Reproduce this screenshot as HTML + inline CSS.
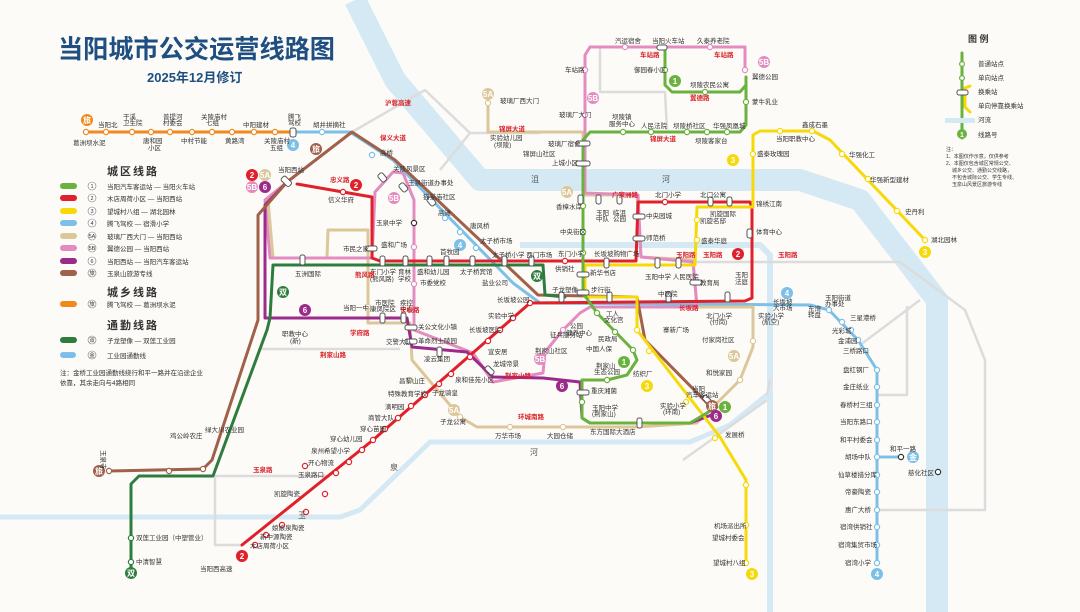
<!DOCTYPE html>
<html><head><meta charset="utf-8"><style>
html,body{margin:0;padding:0;background:#fcfbf8;}
svg{display:block;font-family:"Liberation Sans","Noto Sans CJK SC",sans-serif;}
.s{font-size:6.5px;fill:#333;}
.r{font-size:6.5px;fill:#d8232a;font-weight:bold;}
.l{font-size:8px;fill:#222;}
.h{font-size:11px;fill:#333;font-weight:bold;letter-spacing:2px;}
</style></head><body>
<svg width="1080" height="612" viewBox="0 0 1080 612">
<rect width="1080" height="612" fill="#fcfbf8"/>
<!-- rivers -->
<g fill="none" stroke="#d4e9f3" stroke-linejoin="round" stroke-linecap="butt">
<polyline points="355,0 395,80 480,180 800,180 860,200 937,300 937,612" stroke-width="22"/>
<polyline points="520,245 760,245 770,255 770,612" stroke-width="6"/>
<polyline points="0,517 340,517 360,510 430,442 690,442 730,425 767,395" stroke-width="5"/>
</g>
<!-- grey roads -->
<g fill="none" stroke="#dcdcdc" stroke-width="2.5" stroke-linejoin="round">
<polyline points="352,132 425,90 470,133 540,133"/>
<polyline points="258,349 400,349"/>
<polyline points="213,476 330,476"/>
<polyline points="215,476 215,545 242,545"/>
<polyline points="600,47 600,92 665,92 667,130"/>
<polyline points="690,262 900,262 965,310 985,360 985,510 877,510"/>
<polyline points="907,306 907,395 877,395"/>
<polyline points="860,345 920,300"/>
<polyline points="767,395 770,380"/>
<polyline points="683,460 767,400"/>
<polyline points="470,133 440,170"/>
</g>
<g fill="none" stroke-width="3" stroke-linejoin="round" stroke-linecap="round">
<polyline points="86,132 293,132" stroke="#f08a1d"/>
<polyline points="293,132 350,132 393,160 513,283 540,303 810,305 829,310 858,340 877,370 877,563" stroke="#7cc0e8"/>
<polyline points="877,457 901,457" stroke="#7cc0e8" stroke-dasharray="2 2"/>
<polyline points="488,100 488,132 583,132 583,195 637,195 641,257 693,260 697,307 753,307 753,347 740,380 697,423 637,427 477,427 460,417 412,360 410,323 368,323 368,230 328,230 327,258 273,258 268,200 287,182" stroke="#dcc79a"/>
<polyline points="590,47 745,47 745,70 " stroke="#e38cbf"/>
<polyline points="590,47 585,55 585,193 638,195 641,257 693,262 697,307 590,307 580,313 563,330 545,352 543,373 493,382 473,353 414,330 414,200 403,173 393,172 375,192 372,258 270,258 265,200 287,182" stroke="#e38cbf"/>
<polyline points="287,182 265,205 265,318 407,318 412,347 467,352 493,377 543,378 580,382 582,418 590,423 690,423 717,413" stroke="#9c2a8a"/>
<polyline points="109,471 203,469 212,460 258,320 258,215 287,182 352,132 395,160 538,295 637,297 645,340 707,403" stroke="#a0604a"/>
<polyline points="131,570 131,484 139,476 213,476 267,330 270,318 273,265 543,265 545,295 565,297" stroke="#2e7d3e"/>
<polyline points="297,184 343,192 372,197 372,258 380,261 636,261 638,202 750,202 752,208 752,298 745,301 530,303 373,440 242,545" stroke="#e0202a"/>
<polyline points="746,563 746,480 720,437 637,330 637,297 585,297 585,265 695,265 697,207 753,207 753,135 760,131 813,131 830,140 925,240" stroke="#f7d90a"/>
<polyline points="665,47 665,85 672,92 740,92 746,85 746,77 746,125 740,132 590,132 583,140 583,293 597,313 633,350 637,360 627,375 607,380 582,380 582,418 590,423 690,423 717,407" stroke="#6ab23e"/>
<polyline points="962,53 962,138" stroke="#6ab23e"/>
<polyline points="970,86 965,88 965,107 970,112" stroke="#f7d90a" stroke-width="3"/>
</g>
<rect x="945" y="118" width="30" height="5" fill="#d4e9f3"/>
<g fill="#fff" stroke-width="1.2">
<g stroke="#f08a1d"><circle cx="86" cy="132" r="2.6"/><circle cx="106" cy="132" r="2.6"/><circle cx="132" cy="132" r="2.6"/><circle cx="151" cy="132" r="2.6"/><circle cx="170" cy="132" r="2.6"/><circle cx="192" cy="132" r="2.6"/><circle cx="212" cy="132" r="2.6"/><circle cx="232" cy="132" r="2.6"/><circle cx="254" cy="132" r="2.6"/><circle cx="275" cy="132" r="2.6"/></g>
<g stroke="#7cc0e8"><circle cx="322" cy="132" r="2.6"/><circle cx="372" cy="155" r="2.6"/><circle cx="445" cy="218" r="2.6"/><circle cx="460" cy="232" r="2.6"/><circle cx="476" cy="248" r="2.6"/><circle cx="829" cy="310" r="2.6"/><circle cx="842" cy="322" r="2.6"/><circle cx="851" cy="330" r="2.6"/><circle cx="858" cy="340" r="2.6"/><circle cx="877" cy="370" r="2.6"/><circle cx="877" cy="387" r="2.6"/><circle cx="877" cy="405" r="2.6"/><circle cx="877" cy="422" r="2.6"/><circle cx="877" cy="440" r="2.6"/><circle cx="877" cy="457" r="2.6"/><circle cx="877" cy="475" r="2.6"/><circle cx="877" cy="492" r="2.6"/><circle cx="877" cy="510" r="2.6"/><circle cx="877" cy="527" r="2.6"/><circle cx="877" cy="545" r="2.6"/><circle cx="877" cy="563" r="2.6"/><circle cx="901" cy="457" r="2.6" stroke="#333"/></g>
<g stroke="#e0202a"><circle cx="343" cy="192" r="2.6"/><circle cx="565" cy="261" r="2.6"/><circle cx="665" cy="202" r="2.6"/><circle cx="530" cy="303" r="2.6"/><circle cx="513" cy="318" r="2.6"/><circle cx="500" cy="330" r="2.6"/><circle cx="488" cy="341" r="2.6"/><circle cx="470" cy="357" r="2.6"/><circle cx="451" cy="374" r="2.6"/><circle cx="439" cy="384" r="2.6"/><circle cx="425" cy="395" r="2.6"/><circle cx="411" cy="406" r="2.6"/><circle cx="398" cy="418" r="2.6"/><circle cx="385" cy="429" r="2.6"/><circle cx="373" cy="440" r="2.6"/><circle cx="362" cy="450" r="2.6"/><circle cx="349" cy="462" r="2.6"/><circle cx="336" cy="473" r="2.6"/><circle cx="325" cy="494" r="2.6"/><circle cx="306" cy="512" r="2.6"/><circle cx="282" cy="525" r="2.6"/><circle cx="266" cy="535" r="2.6"/><circle cx="255" cy="545" r="2.6"/></g>
<g stroke="#f7d90a"><circle cx="746" cy="563" r="2.6"/><circle cx="746" cy="525" r="2.6"/><circle cx="746" cy="485" r="2.6"/><circle cx="715" cy="438" r="2.6"/><circle cx="686" cy="402" r="2.6"/><circle cx="649" cy="351" r="2.6"/><circle cx="637" cy="330" r="2.6"/><circle cx="697" cy="220" r="2.6"/><circle cx="697" cy="240" r="2.6"/><circle cx="753" cy="154" r="2.6"/><circle cx="780" cy="131" r="2.6"/><circle cx="812" cy="131" r="2.6"/><circle cx="842" cy="154" r="2.6"/><circle cx="868" cy="179" r="2.6"/><circle cx="897" cy="211" r="2.6"/><circle cx="925" cy="240" r="2.6"/></g>
<g stroke="#6ab23e"><circle cx="665" cy="70" r="2.6"/><circle cx="705" cy="92" r="2.6"/><circle cx="746" cy="102" r="2.6"/><circle cx="623" cy="132" r="2.6"/><circle cx="651" cy="132" r="2.6"/><circle cx="687" cy="132" r="2.6"/><circle cx="707" cy="132" r="2.6"/><circle cx="727" cy="132" r="2.6"/><circle cx="583" cy="206" r="2.6"/><circle cx="583" cy="232" r="2.6"/><circle cx="583" cy="253" r="2.6"/><circle cx="597" cy="313" r="2.6"/><circle cx="615" cy="332" r="2.6"/><circle cx="633" cy="350" r="2.6"/><circle cx="607" cy="380" r="2.6"/><circle cx="582" cy="402" r="2.6"/><circle cx="962" cy="64" r="2.4"/><circle cx="962" cy="78" r="2.4"/></g>
<g stroke="#e38cbf"><circle cx="625" cy="47" r="2.6"/><circle cx="710" cy="47" r="2.6"/><circle cx="585" cy="70" r="2.6"/><circle cx="585" cy="115" r="2.6"/><circle cx="745" cy="70" r="2.6"/><circle cx="414" cy="247" r="2.6"/><circle cx="414" cy="284" r="2.6"/><circle cx="563" cy="330" r="2.6"/><circle cx="545" cy="352" r="2.6"/></g>
<g stroke="#dcc79a"><circle cx="488" cy="103" r="2.6"/><circle cx="368" cy="307" r="2.6"/><circle cx="410" cy="380" r="2.6"/><circle cx="460" cy="417" r="2.6"/><circle cx="510" cy="427" r="2.6"/><circle cx="563" cy="427" r="2.6"/><circle cx="740" cy="380" r="2.6"/><circle cx="753" cy="341" r="2.6"/></g>
<g stroke="#a0604a"><circle cx="109" cy="471" r="2.6"/><circle cx="169" cy="471" r="2.6"/><circle cx="203" cy="469" r="2.6"/></g>
<g stroke="#2e7d3e"><circle cx="131" cy="538" r="2.6"/><circle cx="131" cy="562" r="2.6"/></g>
<circle cx="414" cy="223" r="2.6" stroke="#333"/><circle cx="938" cy="472" r="2.6" stroke="#333"/>
<circle cx="305" cy="466" r="2.6" stroke="#e0202a"/>
</g>
<g fill="#fff" stroke="#555" stroke-width="1">
<rect x="290" y="128" width="6" height="9" rx="2"/><rect x="281" y="178" width="11" height="6" rx="2" transform="rotate(45 286 181)"/>
<rect x="576" y="141" width="14" height="5" rx="2"/><rect x="576" y="161" width="14" height="5" rx="2"/>
<rect x="657" y="45" width="10" height="5" rx="2"/>
<rect x="379" y="173" width="6" height="9" rx="2" transform="rotate(-40 382 177)"/><rect x="400" y="183" width="6" height="9" rx="2" transform="rotate(-40 403 187)"/><rect x="428" y="197" width="6" height="9" rx="2" transform="rotate(-40 431 201)"/>
<rect x="366" y="246" width="11" height="5" rx="2"/>
<rect x="300" y="255" width="5" height="10" rx="2"/><rect x="380" y="256" width="5" height="10" rx="2"/><rect x="403" y="256" width="5" height="10" rx="2"/><rect x="427" y="256" width="5" height="10" rx="2"/><rect x="444" y="256" width="5" height="10" rx="2"/><rect x="470" y="256" width="5" height="10" rx="2"/><rect x="502" y="256" width="5" height="10" rx="2"/><rect x="529" y="256" width="5" height="10" rx="2"/>
<rect x="578" y="195" width="5" height="9" rx="2"/><rect x="596" y="195" width="5" height="9" rx="2"/><rect x="617" y="195" width="5" height="9" rx="2"/><rect x="633" y="214" width="12" height="5" rx="2"/><rect x="633" y="236" width="12" height="5" rx="2"/>
<rect x="708" y="197" width="5" height="9" rx="2"/><rect x="727" y="197" width="5" height="9" rx="2"/><rect x="747" y="229" width="5" height="9" rx="2"/>
<rect x="577" y="272" width="12" height="5" rx="2"/><rect x="577" y="290" width="12" height="5" rx="2"/><rect x="604" y="258" width="5" height="10" rx="2"/><rect x="655" y="258" width="5" height="10" rx="2"/><rect x="676" y="258" width="5" height="10" rx="2"/><rect x="690" y="280" width="12" height="5" rx="2"/>
<rect x="559" y="292" width="5" height="10" rx="2"/><rect x="607" y="292" width="5" height="10" rx="2"/><rect x="666" y="292" width="5" height="10" rx="2"/><rect x="725" y="292" width="5" height="10" rx="2"/>
<rect x="380" y="313" width="5" height="10" rx="2"/><rect x="401" y="313" width="5" height="10" rx="2"/><rect x="405" y="325" width="12" height="5" rx="2"/><rect x="405" y="339" width="12" height="5" rx="2"/><rect x="437" y="347" width="5" height="10" rx="2"/><rect x="487" y="365" width="5" height="10" rx="2" transform="rotate(-45 490 370)"/>
<rect x="577" y="390" width="12" height="5" rx="2"/><rect x="637" y="418" width="5" height="10" rx="2"/><rect x="702" y="398" width="12" height="5" rx="2" transform="rotate(45 708 400)"/>
<rect x="957" y="90" width="11" height="5" rx="2"/>
</g>
<g font-size="8" font-weight="bold" fill="#fff" text-anchor="middle">
<circle cx="87" cy="120" r="6" fill="#f08a1d"/><text x="87" y="123">旅</text>
<circle cx="293" cy="145" r="6" fill="#7cc0e8"/><text x="293" y="148">4</text>
<circle cx="316" cy="149" r="6" fill="#a0604a"/><text x="316" y="152">旅</text>
<circle cx="252" cy="175" r="6" fill="#e0202a"/><text x="252" y="178">2</text>
<circle cx="265" cy="175" r="6" fill="#dcc79a"/><text x="265" y="178">5A</text>
<circle cx="252" cy="187" r="6" fill="#e38cbf"/><text x="252" y="190">5B</text>
<circle cx="265" cy="187" r="6" fill="#9c2a8a"/><text x="265" y="190">6</text>
<circle cx="356" cy="185" r="6" fill="#e0202a"/><text x="356" y="188">2</text>
<circle cx="394" cy="198" r="6" fill="#e38cbf"/><text x="394" y="201">5B</text>
<circle cx="460" cy="245" r="6" fill="#7cc0e8"/><text x="460" y="248">4</text>
<circle cx="537" cy="276" r="6" fill="#2e7d3e"/><text x="537" y="279">双</text>
<circle cx="283" cy="292" r="6" fill="#2e7d3e"/><text x="283" y="295">双</text>
<circle cx="305" cy="310" r="6" fill="#9c2a8a"/><text x="305" y="313">6</text>
<circle cx="488" cy="94" r="6" fill="#dcc79a"/><text x="488" y="97">5A</text>
<circle cx="567" cy="192" r="6" fill="#dcc79a"/><text x="567" y="195">5A</text>
<circle cx="593" cy="98" r="6" fill="#e38cbf"/><text x="593" y="101">5B</text>
<circle cx="764" cy="62" r="6" fill="#e38cbf"/><text x="764" y="65">5B</text>
<circle cx="675" cy="81" r="6" fill="#6ab23e"/><text x="675" y="84">1</text>
<circle cx="733" cy="160" r="6" fill="#f7d90a"/><text x="733" y="163">3</text>
<circle cx="925" cy="252" r="6" fill="#f7d90a"/><text x="925" y="255">3</text>
<circle cx="738" cy="254" r="6" fill="#e0202a"/><text x="738" y="257">2</text>
<circle cx="787" cy="293" r="6" fill="#7cc0e8"/><text x="787" y="296">4</text>
<circle cx="562" cy="386" r="6" fill="#9c2a8a"/><text x="562" y="389">6</text>
<circle cx="624" cy="362" r="6" fill="#6ab23e"/><text x="624" y="365">1</text>
<circle cx="647" cy="386" r="6" fill="#f7d90a"/><text x="647" y="389">3</text>
<circle cx="540" cy="359" r="6" fill="#e38cbf"/><text x="540" y="362">5B</text>
<circle cx="454" cy="410" r="6" fill="#dcc79a"/><text x="454" y="413">5A</text>
<circle cx="734" cy="356" r="6" fill="#dcc79a"/><text x="734" y="359">5A</text>
<circle cx="712" cy="406" r="6" fill="#a0604a"/><text x="712" y="409">旅</text>
<circle cx="725" cy="407" r="6" fill="#6ab23e"/><text x="725" y="410">1</text>
<circle cx="716" cy="416" r="6" fill="#9c2a8a"/><text x="716" y="419">6</text>
<circle cx="752" cy="574" r="6" fill="#f7d90a"/><text x="752" y="577">3</text>
<circle cx="877" cy="574" r="6" fill="#7cc0e8"/><text x="877" y="577">4</text>
<circle cx="913" cy="457" r="6" fill="#7cc0e8"/><text x="913" y="460">金</text>
<circle cx="99" cy="471" r="6" fill="#a0604a"/><text x="99" y="474">旅</text>
<circle cx="131" cy="573" r="6" fill="#2e7d3e"/><text x="131" y="576">双</text>
<circle cx="242" cy="556" r="6" fill="#e0202a"/><text x="242" y="559">2</text>
<circle cx="962" cy="134" r="5" fill="#6ab23e"/><text x="962" y="137" font-size="7">1</text>
</g>
<text x="58" y="58" font-size="25.5" font-weight="bold" fill="#1f4f80" stroke="#fff" stroke-width="0.8" paint-order="stroke" textLength="277" lengthAdjust="spacingAndGlyphs">当阳城市公交运营线路图</text>
<text x="147" y="82" font-size="13" font-weight="bold" fill="#1f4f80">2025年12月修订</text>
<text x="107" y="175" class="h">城区线路</text>
<g stroke-width="6" stroke-linecap="round">
<line x1="63" y1="186" x2="74" y2="186" stroke="#6ab23e"/><line x1="63" y1="198" x2="74" y2="198" stroke="#e0202a"/><line x1="63" y1="211" x2="74" y2="211" stroke="#f7d90a"/><line x1="63" y1="223" x2="74" y2="223" stroke="#7cc0e8"/><line x1="63" y1="236" x2="74" y2="236" stroke="#dcc79a"/><line x1="63" y1="248" x2="74" y2="248" stroke="#e38cbf"/><line x1="63" y1="261" x2="74" y2="261" stroke="#9c2a8a"/><line x1="63" y1="273" x2="74" y2="273" stroke="#a0604a"/>
<line x1="63" y1="304" x2="74" y2="304" stroke="#f08a1d"/><line x1="63" y1="340" x2="74" y2="340" stroke="#2e7d3e"/><line x1="63" y1="355" x2="74" y2="355" stroke="#7cc0e8" stroke-dasharray="2 2"/>
</g>
<g fill="#fff" stroke="#777" stroke-width="0.6"><circle cx="92" cy="186" r="4"/><circle cx="92" cy="198" r="4"/><circle cx="92" cy="211" r="4"/><circle cx="92" cy="223" r="4"/><circle cx="92" cy="236" r="4"/><circle cx="92" cy="248" r="4"/><circle cx="92" cy="261" r="4"/><circle cx="92" cy="273" r="4"/><circle cx="92" cy="304" r="4"/><circle cx="92" cy="340" r="4"/><circle cx="92" cy="355" r="4"/></g>
<g font-size="5.5" fill="#333" text-anchor="middle"><text x="92" y="188">1</text><text x="92" y="200">2</text><text x="92" y="213">3</text><text x="92" y="225">4</text><text x="92" y="238">5A</text><text x="92" y="250">5B</text><text x="92" y="263">6</text><text x="92" y="275">旅</text><text x="92" y="306">旅</text><text x="92" y="342">双</text><text x="92" y="357">金</text></g>
<g class="s" font-size="7"><text x="107" y="189">当阳汽车客运站 — 当阳火车站</text><text x="107" y="201">木店周荷小区 — 当阳西站</text><text x="107" y="214">望城村八组 — 湖北园林</text><text x="107" y="226">腾飞驾校 — 宿滑小学</text><text x="107" y="239">玻璃厂西大门 — 当阳西站</text><text x="107" y="251">翼德公园 — 当阳西站</text><text x="107" y="264">当阳西站 — 当阳汽车客运站</text><text x="107" y="276">玉泉山旅游专线</text><text x="107" y="307">腾飞驾校 — 葛洲坝水泥</text><text x="107" y="343">子龙塑像 — 双莲工业园</text><text x="107" y="358">工业园通勤线</text></g>
<text x="107" y="296" class="h">城乡线路</text>
<text x="107" y="329" class="h">通勤线路</text>
<text x="60" y="375" class="s">注：金桥工业园通勤线绕行和平一路并在沿途企业</text>
<text x="60" y="385" class="s">依靠，其余走向与4路相同</text>
<text x="968" y="42" font-size="9" fill="#333" font-weight="bold">图 例</text>
<g class="s"><text x="978" y="66">普通站点</text><text x="978" y="80">单向站点</text><text x="978" y="94">换乘站</text><text x="978" y="108">单向停靠换乘站</text><text x="978" y="122">河流</text><text x="978" y="137">线路号</text></g>
<g font-size="5" fill="#333"><text x="946" y="151">注：</text><text x="946" y="158">1、本图仅作示意，仅供参考</text><text x="946" y="165">2、本图仅包含城区常规公交、</text><text x="952" y="172">城乡公交、通勤公交线路，</text><text x="952" y="179">不包含城际公交、学生专线、</text><text x="952" y="186">玉泉山风景区旅游专线</text></g>
<g class="s">
<text x="73" y="145">葛洲坝水泥</text><text x="98" y="127">当阳北</text><text x="123" y="119">干溪</text><text x="123" y="125">卫生院</text><text x="163" y="119">普提河</text><text x="163" y="125">村委会</text><text x="143" y="143">唐和园</text><text x="148" y="150">小区</text><text x="201" y="119">关陵庙村</text><text x="206" y="125">七组</text><text x="181" y="143">中村节能</text><text x="225" y="143">黄路湾</text><text x="243" y="127">中阳建材</text><text x="264" y="143">关陵庙村</text><text x="270" y="150">五组</text><text x="288" y="119">腾飞</text><text x="288" y="125">驾校</text><text x="313" y="127">胡井拼摘社</text>
<text x="380" y="155">高桥</text><text x="393" y="171">关陵风景区</text><text x="408" y="185">玉泉街道办事处</text><text x="423" y="199">猫猫庙社区</text><text x="438" y="215">高滩</text><text x="470" y="228">唐风桥</text><text x="480" y="243">太子桥市场</text><text x="492" y="257">太子桥小学 西门市场</text>
<text x="278" y="172">当阳西站</text><text x="328" y="202">信义华府</text><text x="376" y="225">玉泉中学</text><text x="381" y="247">盛和广场</text><text x="343" y="251">市民之家</text>
<text x="295" y="276">五洲国际</text><text x="370" y="274">东门小学</text><text x="370" y="281">(熊风路)</text><text x="398" y="274">育林</text><text x="398" y="281">学校</text><text x="417" y="274">盛和幼儿园</text><text x="420" y="285">市委党校</text><text x="440" y="254">首牧园</text><text x="460" y="274">太子桥宾馆</text><text x="482" y="285">盐业公司</text>
<text x="282" y="336">职教中心</text><text x="290" y="343">(新)</text><text x="343" y="310">当阳一中</text><text x="375" y="305">市医院</text><text x="370" y="311">康凤院区</text><text x="400" y="305">疾控</text><text x="400" y="311">中心</text><text x="418" y="329">关公文化小镇</text><text x="386" y="344">交警大队</text><text x="418" y="343">革命烈士陵园</text>
<text x="497" y="302">长坂坡公园</text><text x="488" y="318">实验中学</text><text x="469" y="332">长坂坡医院</text><text x="488" y="354">宣安居</text><text x="424" y="361">凌云集团</text><text x="493" y="366">龙城帝景</text><text x="455" y="382">泉和佳苑小区</text><text x="399" y="383">昌黎山庄</text><text x="388" y="396">特殊教育学校</text><text x="432" y="395">子龙骑皇</text><text x="385" y="409">滴明园</text><text x="368" y="420">商管大队</text><text x="360" y="431">穿心苗圃</text><text x="330" y="441">穿心幼儿园</text><text x="311" y="453">泉州希望小学</text><text x="308" y="465">开心物流</text><text x="298" y="477">玉泉路口</text><text x="274" y="496">凯旋陶瓷</text><text x="272" y="530">娘娘泉陶瓷</text><text x="260" y="539">新中源陶瓷</text><text x="250" y="548">木店周荷小区</text><text x="200" y="571">当阳西高速</text>
<text x="136" y="540">双莲工业园（中塑管业）</text><text x="136" y="564">中清智慧</text>
<text x="113" y="462" transform="rotate(90 113 450)">玉泉寺</text><text x="170" y="438">鸡公岭农庄</text><text x="205" y="432">绿大川农业园</text>
<text x="440" y="424">子龙公寓</text><text x="495" y="438">万华市场</text><text x="547" y="438">大园仓储</text><text x="590" y="434">东方国际大酒店</text>
<text x="550" y="337">征兵服务站</text><text x="570" y="328">公园</text><text x="566" y="335">健养中心</text><text x="535" y="353">荆家山社区</text><text x="606" y="316">工人</text><text x="604" y="322">文化宫</text><text x="598" y="341">民政局</text><text x="586" y="351">中国人保</text><text x="596" y="368">荆家山</text><text x="594" y="374">生态公园</text><text x="591" y="393">重庆湘菌</text><text x="592" y="410">玉阳中学</text><text x="592" y="416">(荆家山)</text><text x="633" y="376">纺织厂</text><text x="660" y="408">实验小学</text><text x="663" y="414">(环南)</text><text x="663" y="332">寨新广场</text><text x="692" y="391">当阳</text><text x="686" y="397">汽车客运站</text><text x="725" y="437">发展桥</text>
<text x="712" y="540">望城村委会</text><text x="714" y="528">机场派出所</text><text x="713" y="565">望城村八组</text>
<text x="706" y="318">北门小学</text><text x="710" y="324">(付岗)</text><text x="702" y="342">付家岗社区</text><text x="706" y="375">和悦家园</text>
<text x="758" y="318">实验小学</text><text x="762" y="324">(航空)</text><text x="808" y="311">东湾</text><text x="808" y="317">转盘</text><text x="850" y="320">三星港桥</text><text x="832" y="333">光彩城</text><text x="838" y="343">金浦园</text><text x="843" y="353">三桥路口</text><text x="843" y="372">盘红钢厂</text><text x="843" y="389">金庄纸业</text><text x="840" y="407">春桥村三组</text><text x="840" y="424">当阳东路口</text><text x="840" y="442">和平村委会</text><text x="845" y="459">胡场中队</text><text x="838" y="477">仙草楼措分库</text><text x="845" y="494">帝豪陶瓷</text><text x="845" y="512">惠广大桥</text><text x="840" y="529">宿湾供销社</text><text x="838" y="547">宿湾集贸市场</text><text x="845" y="565">宿湾小学</text><text x="890" y="451">和平一路</text><text x="908" y="475">慈化社区</text>
<text x="773" y="304">长坂坡</text><text x="773" y="310">大市场</text><text x="825" y="300">玉阳街道</text><text x="825" y="306">办事处</text>
<text x="615" y="43">汽运宿舍</text><text x="652" y="43">当阳火车站</text><text x="697" y="43">久泰养老院</text><text x="565" y="72">车站路</text><text x="634" y="72">御园春小区</text><text x="690" y="87">坝陵农民公寓</text><text x="752" y="79">翼德公园</text><text x="752" y="104">蒙牛乳业</text><text x="559" y="117">玻璃厂大门</text><text x="612" y="119">坝陵镇</text><text x="609" y="126">服务中心</text><text x="641" y="128">人民法院</text><text x="673" y="128">坝陵桥社区</text><text x="713" y="128">华强凤凰城</text><text x="695" y="143">坝陵客家台</text><text x="500" y="103">玻璃厂西大门</text><text x="490" y="140">实验幼儿园</text><text x="494" y="147">(坝陵)</text><text x="548" y="146">玻璃厂宿舍</text><text x="523" y="156">锦屏山社区</text><text x="552" y="165">上城小区</text>
<text x="556" y="209">香樟水岸</text><text x="560" y="234">中央街区</text><text x="558" y="256">东门小学</text><text x="555" y="271">供销社</text><text x="590" y="275">新华书店</text><text x="591" y="292">步行街</text><text x="552" y="292">子龙塑像</text><text x="594" y="256">长坂坡购物广场</text><text x="596" y="215">玉阳</text><text x="596" y="221">中队</text><text x="613" y="215">临沮</text><text x="613" y="221">公园</text><text x="646" y="218">中央园城</text><text x="646" y="240">师范桥</text><text x="655" y="197">北门小学</text><text x="700" y="197">北门公寓</text><text x="710" y="216">凯旋国际</text><text x="700" y="223">凯旋名邸</text><text x="701" y="243">盛泰华庭</text><text x="756" y="206">锦绣江南</text><text x="756" y="234">体育中心</text><text x="735" y="277">玉阳</text><text x="735" y="284">法庭</text><text x="645" y="279">玉阳中学 人民医院</text><text x="700" y="285">教育局</text><text x="658" y="296">中医院</text>
<text x="776" y="141">当阳职教中心</text><text x="757" y="156">盛泰玫瑰园</text><text x="802" y="127">鑫成石墨</text><text x="849" y="157">华强化工</text><text x="870" y="182">华强新型建材</text><text x="905" y="214">史丹利</text><text x="931" y="242">湖北园林</text>
</g>
<g class="r">
<text x="330" y="182">忠义路</text><text x="640" y="57">车站路</text><text x="714" y="57">车站路</text><text x="690" y="100">翼德路</text><text x="650" y="141">锦屏大道</text><text x="499" y="131">锦屏大道</text><text x="612" y="197">广家洲路</text><text x="703" y="257">玉阳路</text><text x="778" y="257">玉阳路</text><text x="676" y="257">玉阳路</text><text x="355" y="277">熊风路</text><text x="350" y="335">学府路</text><text x="320" y="357">荆家山路</text><text x="505" y="378">荆家山路</text><text x="518" y="419">环城南路</text><text x="679" y="310">长坂路</text><text x="253" y="472">玉泉路</text><text x="400" y="312">长坂路</text><text x="380" y="140">保义大道</text><text x="385" y="105">沪蓉高速</text>
</g>
<g font-size="8" fill="#555"><text x="531" y="182">沮</text><text x="662" y="182">河</text><text x="530" y="455">河</text><text x="390" y="470">泉</text><text x="298" y="518">玉</text></g>
</svg>
</body></html>
